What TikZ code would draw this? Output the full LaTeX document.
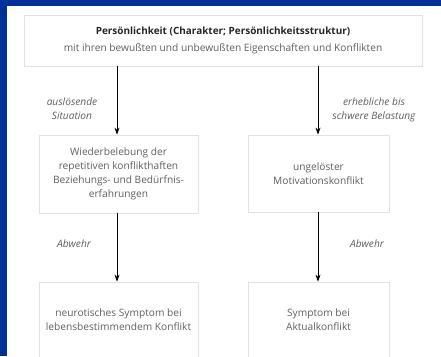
\documentclass[tikz,border=0pt]{standalone}
\usepackage{fontspec}
\setmainfont{Open Sans}
\usepackage{tikz}
\usetikzlibrary{arrows.meta,positioning,calc}
\definecolor{frameBlue}{HTML}{00309A}
\definecolor{boxGray}{HTML}{E2E2E2}
\definecolor{textGray}{HTML}{606060}

\begin{document}
\begin{tikzpicture}[
  x=1bp,
  y=-1bp,
  font=\fontsize{10.2}{14}\selectfont,
  box/.style={
    rectangle,
    draw=boxGray,
    fill=white,
    line width=0.8bp,
    align=center,
    text=textGray,
    inner sep=0pt
  },
  cue/.style={font=\fontsize{10.2}{14}\selectfont\itshape,text=textGray,align=center},
  arrow/.style={-{Stealth[length=7bp,width=5bp]},draw=black,line width=0.6bp}
]

% Frame.
\useasboundingbox (0,0) rectangle (441,356);
\clip (0,0) rectangle (441,356);
\fill[frameBlue] (0,0) rectangle (441,356);
\fill[white] (7,6) rectangle (441,356);

% Boxes.
\node[box,minimum width=398bp,minimum height=51bp,font=\fontsize{10.2}{16.5}\selectfont] (person) at (223,40.5)
  {{\fontsize{10}{16.5}\selectfont\bfseries\color{black!85}Persönlichkeit (Charakter; Persönlichkeitsstruktur)}\\mit ihren bewußten und unbewußten Eigenschaften und Konflikten};
\node[box,minimum width=159bp,minimum height=78bp] (revival) at (118.5,174)
  {Wiederbelebung der\\repetitiven konflikthaften\\Beziehungs- und Bedürfnis-\\erfahrungen};
\node[box,minimum width=141bp,minimum height=77bp] (motive) at (318.5,173.5)
  {ungelöster\\Motivationskonflikt};
\node[box,minimum width=159bp,minimum height=100bp] (neurotic) at (118.5,332)
  {};
\node[box,minimum width=141bp,minimum height=100bp] (actual) at (318.5,332)
  {};
\node[align=center,text=textGray] (neuroticText) at (118.5,320)
  {neurotisches Symptom bei\\lebensbestimmendem Konflikt};
\node[align=center,text=textGray] (actualText) at (318.5,320)
  {Symptom bei\\Aktualkonflikt};

% Arrows and cues.
\draw[arrow] (person.south -| 117,0) -- (revival.north -| 117,0);
\draw[arrow] (person.south -| 318,0) -- (motive.north -| 318,0);
\draw[arrow] (revival.south -| 117,0) -- (neurotic.north -| 117,0);
\draw[arrow] (motive.south -| 318,0) -- (actual.north -| 318,0);

\node[cue] (trigger) at (72,109) {auslösende\\Situation};
\node[cue] (strain) at (374,110) {erhebliche bis\\schwere Belastung};
\node[cue] (defenseL) at (74,244) {Abwehr};
\node[cue] (defenseR) at (367,244) {Abwehr};

\end{tikzpicture}
\end{document}
